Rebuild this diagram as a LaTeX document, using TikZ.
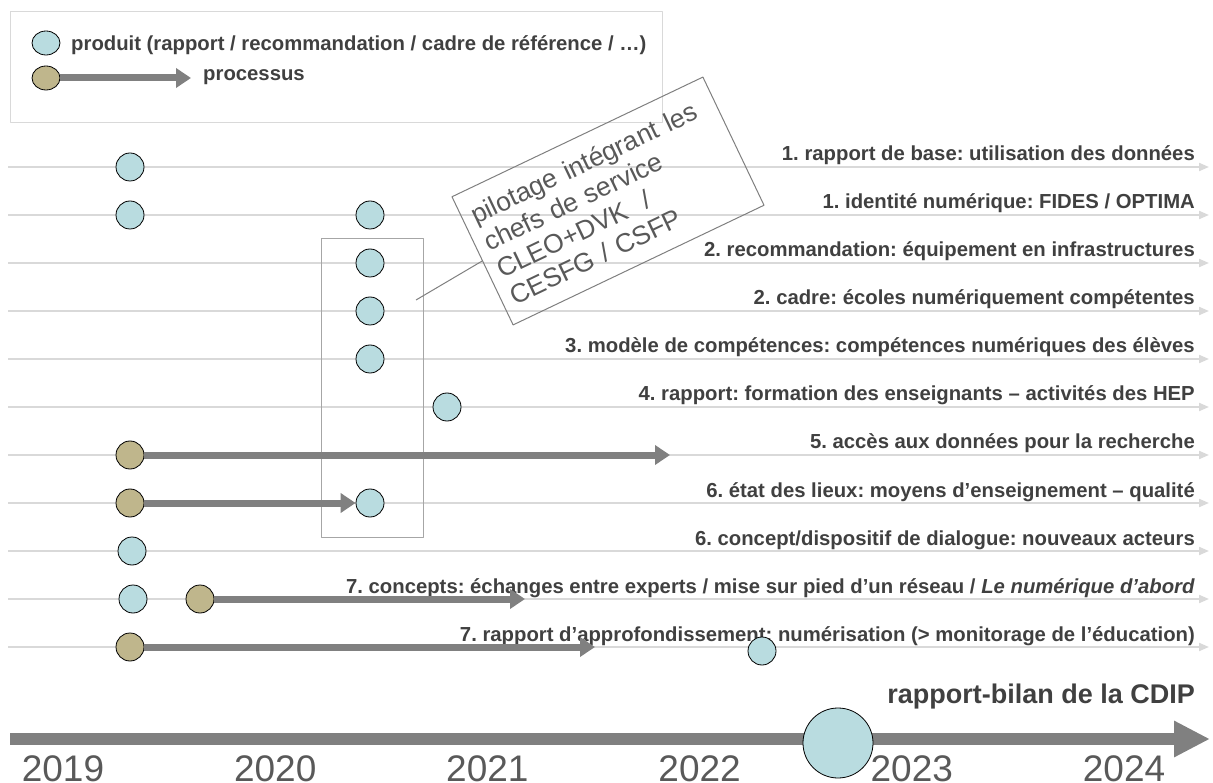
\documentclass[tikz,border=0pt]{standalone}
\usepackage{fontspec}
\setmainfont{Liberation Sans}
\usetikzlibrary{arrows.meta,shapes.geometric}
\definecolor{prodfill}{HTML}{B9DCE0}
\definecolor{procfill}{HTML}{BFB68C}
\definecolor{txtgray}{HTML}{404040}
\definecolor{yeargray}{HTML}{595959}
\definecolor{linegray}{HTML}{D9D9D9}
\definecolor{arrgray}{HTML}{808080}
\definecolor{boxgray}{HTML}{A6A6A6}
\definecolor{pilotgray}{HTML}{7F7F7F}
\frenchspacing
\begin{document}
\begin{tikzpicture}[x=1pt, y=-1pt, line join=round,
	prod/.style={circle, draw=black, line width=0.8pt, fill=prodfill, minimum size=28pt, inner sep=0pt},
	proc/.style={prod, fill=procfill},
	procarrow/.style={arrgray, line width=7pt, -{Triangle[length=15pt,width=19pt]}},
	rowline/.style={linegray, line width=2pt, -{Triangle[length=10pt,width=8pt]}},
	rowlabel/.style={anchor=base east, inner sep=0pt, text=txtgray, font=\fontsize{20.3}{24}\selectfont\bfseries},
	year/.style={anchor=base, inner sep=0pt, text=yeargray, font=\fontsize{37}{40}\selectfont}]
	\useasboundingbox (0,0) rectangle (1213,783);
	% legende
	\draw[linegray, line width=1pt] (10,12) rectangle (662,123);
	\node[prod, ellipse, minimum height=24pt] (legprod) at (46,43) {};
	\node[proc, ellipse, minimum height=24pt] (legproc) at (46,78) {};
	\coordinate (legend) at (191,78);
	\draw[procarrow] (legproc) -- (legend);
	\node[anchor=west, inner sep=0pt, text=txtgray, font=\fontsize{20.3}{24}\selectfont\bfseries] (legprodtxt) at (71,45) {produit (rapport / recommandation / cadre de référence / …)};
	\node[anchor=west, inner sep=0pt, text=txtgray, font=\fontsize{20.3}{24}\selectfont\bfseries] (legproctxt) at (203,77) {processus};
	% lignes
	\foreach \i/\txt in {1/{1. rapport de base: utilisation des données},
		2/{1. identité numérique: FIDES / OPTIMA},
		3/{2. recommandation: équipement en infrastructures},
		4/{2. cadre: écoles numériquement compétentes},
		5/{3. modèle de compétences: compétences numériques des élèves},
		6/{4. rapport: formation des enseignants – activités des HEP},
		7/{5. accès aux données pour la recherche},
		8/{6. état des lieux: moyens d’enseignement – qualité},
		9/{6. concept/dispositif de dialogue: nouveaux acteurs},
		10/{7. concepts: échanges entre experts / mise sur pied d’un réseau / \textit{Le numérique d’abord}},
		11/{7. rapport d’approfondissement: numérisation (> monitorage de l’éducation)}}{
		\pgfmathsetmacro\ry{167+48*(\i-1)}
		\coordinate (s\i) at (8,\ry);
		\coordinate (e\i) at (1209,\ry);
		\draw[rowline] (s\i) -- (e\i);
		\node[rowlabel] (t\i) at (1195,\ry-6) {\txt};
	}
	% pilotage
	\node[draw=boxgray, line width=1pt, minimum width=102pt, minimum height=298pt, inner sep=0pt] (colbox) at (372,388) {};
	\node[draw=pilotgray, line width=1pt, rotate=25.5, minimum width=278pt, minimum height=142pt, text width=258pt, inner xsep=10pt, align=left, text=yeargray, font=\fontsize{26.5}{30}\selectfont] (pilot) at (608,201) {pilotage intégrant les\\chefs de service\\CLEO+DVK~ /\\CESFG / CSFP};
	\coordinate (colconn) at (416,300);
	\draw[pilotgray, line width=1pt] (colconn) -- (pilot.west);
	% produits / processus
	\node[prod] (p1) at (130,167) {};
	\node[prod] (p2a) at (130,215) {};
	\node[prod] (p2b) at (370,215) {};
	\node[prod] (p3) at (370,263) {};
	\node[prod] (p4) at (370,311) {};
	\node[prod] (p5) at (370,359) {};
	\node[prod] (p6) at (447,407) {};
	\node[proc] (b7) at (130,455) {};
	\node[proc] (b8) at (130,503) {};
	\node[prod] (p8) at (370,503) {};
	\node[prod] (p9) at (132,551) {};
	\node[prod] (p10) at (133,599) {};
	\node[proc] (b10) at (200,599) {};
	\node[proc] (b11) at (130,647) {};
	\node[prod] (p11) at (762,651) {};
	\coordinate (b7end) at (670,455);
	\coordinate (b10end) at (525,599);
	\coordinate (b11end) at (595,647);
	\draw[procarrow] (b7) -- (b7end);
	\draw[procarrow] (b8) -- (p8);
	\draw[procarrow] (b10) -- (b10end);
	\draw[procarrow] (b11) -- (b11end);
	% axe du temps
	\coordinate (tl0) at (10,739);
	\coordinate (tl1) at (1210,739);
	\draw[arrgray, line width=12pt, -{Triangle[length=36pt,width=34pt]}] (tl0) -- (tl1);
	\node[prod, minimum size=70pt] (bilan) at (838,743) {};
	\node[rowlabel, font=\fontsize{27}{30}\selectfont\bfseries] (bilantxt) at (1195,703) {rapport-bilan de la CDIP};
	\foreach \yr [count=\k from 0] in {2019,...,2024}
		\node[year] (y\yr) at (63+212.2*\k,781) {\yr};
\end{tikzpicture}
\end{document}
